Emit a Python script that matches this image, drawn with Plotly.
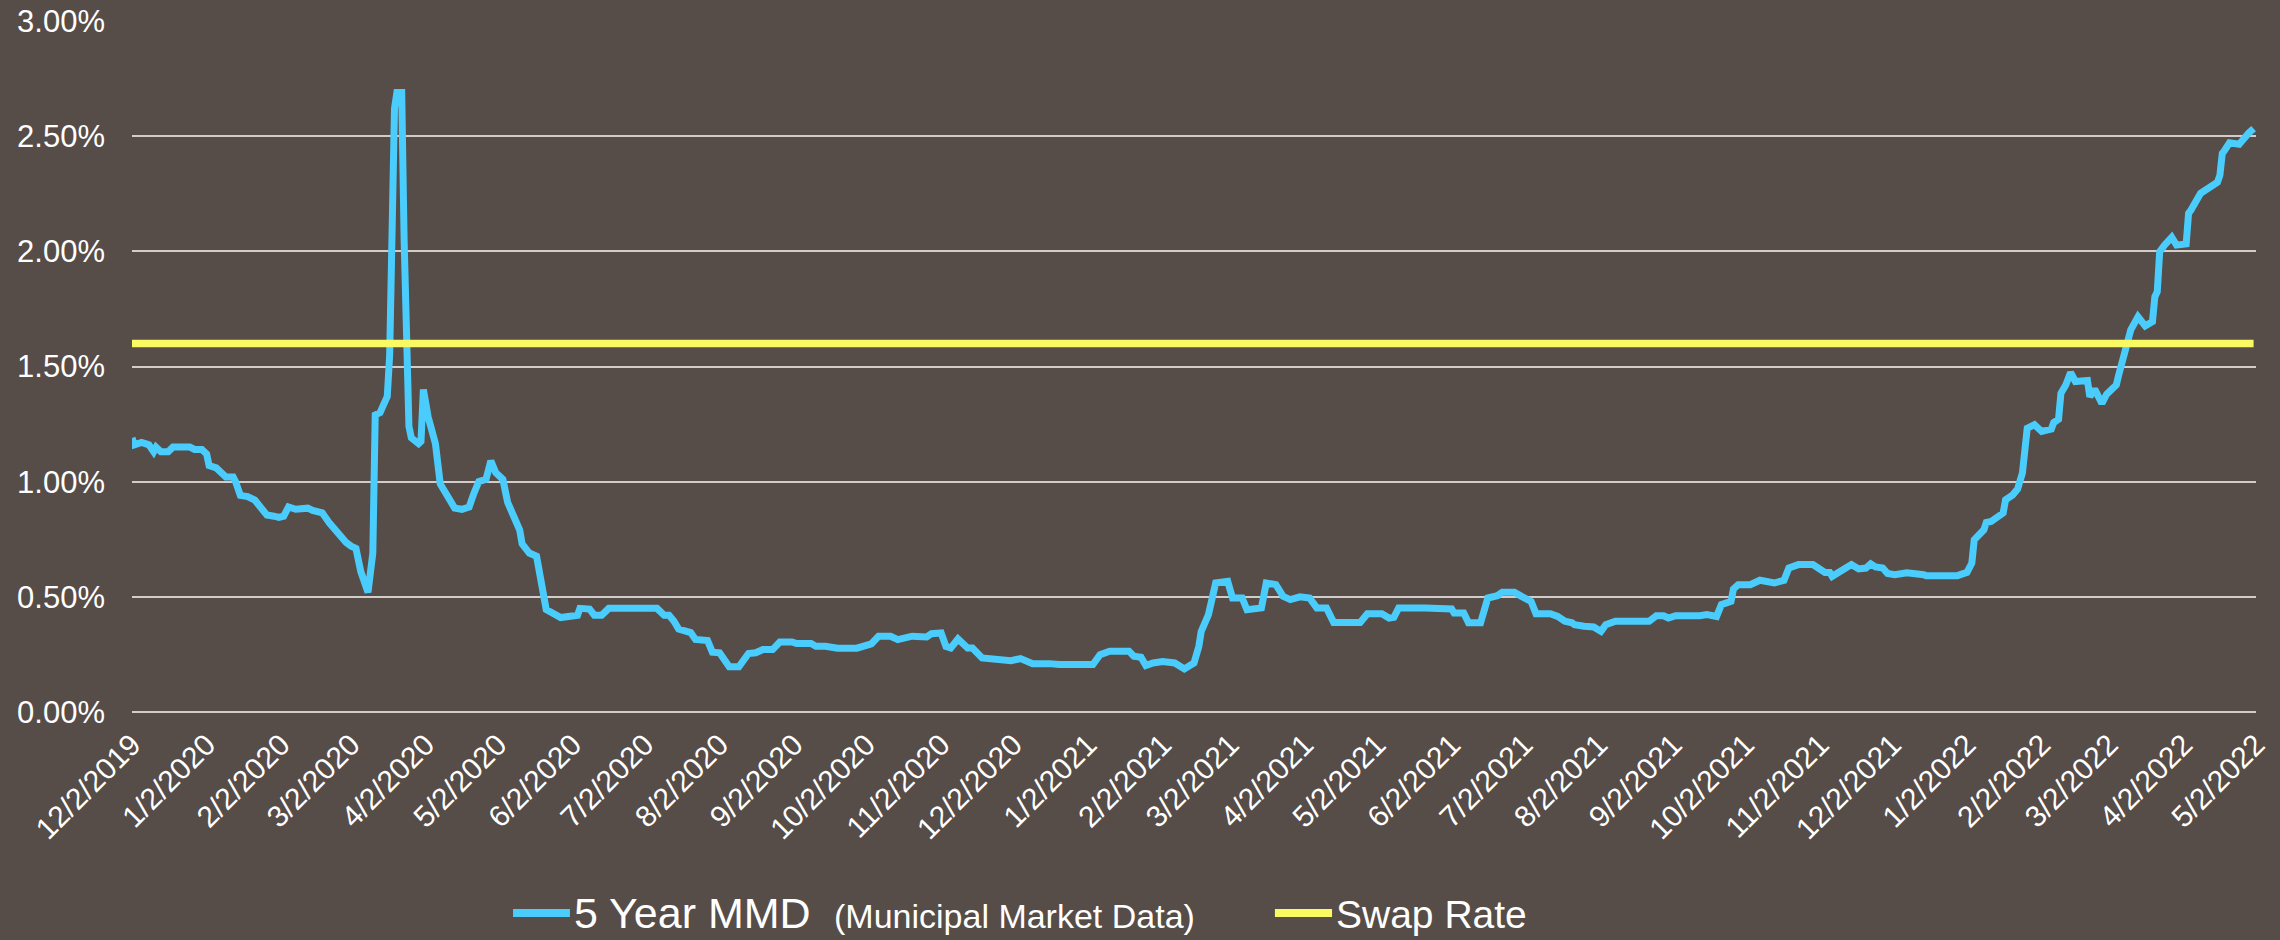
import pandas as pd
import plotly.graph_objects as go

# ---------------- data ----------------
start_date = "2019-12-02"

# days elapsed since start_date for each observation of the 5 Year MMD
mmd_days = [0, 1, 4, 7, 9, 10, 12, 15, 17, 24, 26, 29, 31, 32, 35, 37, 39, 42, 43, 45,
            48, 51, 53, 56, 59, 61, 63, 65, 68, 73, 75, 79, 82, 84, 86, 89, 91, 93, 95, 98,
            100, 101, 103, 106, 107, 108, 109, 110, 112, 113, 114, 115, 116, 119, 120, 121, 123, 126, 128, 131,
            134, 137, 140, 142, 144, 147, 148, 149, 151, 154, 156, 161, 162, 165, 168, 172, 178, 182, 185, 186,
            190, 192, 195, 198, 203, 218, 221, 223, 225, 227, 232, 234, 239, 241, 244, 248, 252, 256, 259, 262,
            266, 269, 274, 276, 282, 284, 288, 293, 301, 304, 307, 310, 315, 318, 319, 324, 330, 332, 336, 338,
            340, 343, 347, 349, 353, 359, 365, 369, 374, 381, 385, 399, 402, 406, 414, 416, 419, 421, 424, 428,
            433, 437, 441, 443, 444, 447, 450, 455, 457, 461, 463, 469, 471, 475, 478, 481, 485, 489, 492, 496,
            499, 510, 513, 519, 522, 524, 526, 537, 548, 549, 553, 555, 560, 563, 567, 569, 574, 577, 581, 583,
            589, 592, 595, 598, 599, 603, 607, 610, 612, 616, 630, 633, 636, 638, 641, 651, 654, 658, 660, 664,
            665, 667, 672, 676, 680, 682, 686, 688, 692, 698, 703, 705, 706, 709, 714, 717, 720, 722, 724, 727,
            729, 732, 737, 744, 745, 758, 762, 764, 765, 769, 770, 772, 777, 778, 781, 783, 785, 787, 790, 793,
            797, 798, 800, 801, 803, 805, 807, 812, 813, 815, 817, 818, 820, 822, 824, 825, 827, 828, 830, 833,
            836, 839, 840, 841, 842, 844, 847, 849, 853, 854, 855, 859, 862, 866, 867, 868, 869, 871, 875, 877,
            879, 881]

# 5 Year MMD yield, percent
mmd_values = [1.19, 1.16, 1.17, 1.16, 1.13, 1.15, 1.13, 1.13, 1.15, 1.15, 1.14, 1.14, 1.12, 1.07, 1.06, 1.04, 1.02, 1.02, 1.00, 0.94,
              0.935, 0.92, 0.89, 0.855, 0.85, 0.845, 0.85, 0.89, 0.88, 0.885, 0.875, 0.865, 0.82, 0.795, 0.775, 0.735, 0.72, 0.71, 0.61, 0.52,
              0.69, 1.29, 1.30, 1.37, 1.55, 2.05, 2.62, 2.69, 2.69, 2.05, 1.45, 1.24, 1.19, 1.165, 1.175, 1.40, 1.28, 1.165, 0.99, 0.935,
              0.885, 0.88, 0.89, 0.95, 1.00, 1.01, 1.05, 1.09, 1.04, 1.01, 0.91, 0.79, 0.73, 0.69, 0.676, 0.445, 0.41, 0.42, 0.42, 0.45,
              0.447, 0.42, 0.42, 0.45, 0.45, 0.45, 0.42, 0.42, 0.395, 0.36, 0.345, 0.315, 0.31, 0.26, 0.257, 0.196, 0.196, 0.254, 0.257, 0.271,
              0.271, 0.304, 0.304, 0.297, 0.297, 0.285, 0.285, 0.277, 0.277, 0.288, 0.296, 0.329, 0.329, 0.314, 0.317, 0.329, 0.326, 0.34, 0.343, 0.285,
              0.278, 0.317, 0.278, 0.278, 0.235, 0.232, 0.223, 0.232, 0.21, 0.21, 0.206, 0.206, 0.249, 0.264, 0.264, 0.242, 0.238, 0.202, 0.213, 0.219,
              0.213, 0.187, 0.213, 0.285, 0.35, 0.423, 0.56, 0.567, 0.495, 0.495, 0.444, 0.452, 0.56, 0.553, 0.502, 0.488, 0.50, 0.495, 0.452, 0.452,
              0.389, 0.389, 0.427, 0.427, 0.408, 0.411, 0.452, 0.452, 0.447, 0.43, 0.43, 0.387, 0.387, 0.495, 0.505, 0.52, 0.52, 0.502, 0.48, 0.427,
              0.427, 0.415, 0.394, 0.387, 0.379, 0.372, 0.369, 0.35, 0.379, 0.394, 0.394, 0.418, 0.418, 0.408, 0.418, 0.418, 0.423, 0.415, 0.466, 0.48,
              0.534, 0.553, 0.553, 0.572, 0.567, 0.56, 0.572, 0.625, 0.64, 0.64, 0.606, 0.606, 0.589, 0.606, 0.64, 0.621, 0.625, 0.643, 0.63, 0.625,
              0.601, 0.596, 0.604, 0.596, 0.592, 0.592, 0.606, 0.647, 0.748, 0.791, 0.823, 0.827, 0.864, 0.921, 0.943, 0.968, 1.037, 1.232, 1.247, 1.218,
              1.228, 1.257, 1.271, 1.384, 1.42, 1.474, 1.435, 1.439, 1.369, 1.402, 1.348, 1.34, 1.38, 1.40, 1.42, 1.464, 1.543, 1.586, 1.659, 1.716,
              1.676, 1.695, 1.803, 1.825, 1.998, 2.027, 2.061, 2.027, 2.032, 2.165, 2.179, 2.252, 2.273, 2.30, 2.33, 2.425, 2.439, 2.471, 2.465, 2.494,
              2.514, 2.533]

swap_rate_value = 1.60  # percent, flat

tick_dates = ["2019-12-02", "2020-01-02", "2020-02-02", "2020-03-02", "2020-04-02", "2020-05-02",
              "2020-06-02", "2020-07-02", "2020-08-02", "2020-09-02", "2020-10-02", "2020-11-02",
              "2020-12-02", "2021-01-02", "2021-02-02", "2021-03-02", "2021-04-02", "2021-05-02",
              "2021-06-02", "2021-07-02", "2021-08-02", "2021-09-02", "2021-10-02", "2021-11-02",
              "2021-12-02", "2022-01-02", "2022-02-02", "2022-03-02", "2022-04-02", "2022-05-02"]
tick_labels = ["12/2/2019", "1/2/2020", "2/2/2020", "3/2/2020", "4/2/2020", "5/2/2020",
               "6/2/2020", "7/2/2020", "8/2/2020", "9/2/2020", "10/2/2020", "11/2/2020",
               "12/2/2020", "1/2/2021", "2/2/2021", "3/2/2021", "4/2/2021", "5/2/2021",
               "6/2/2021", "7/2/2021", "8/2/2021", "9/2/2021", "10/2/2021", "11/2/2021",
               "12/2/2021", "1/2/2022", "2/2/2022", "3/2/2022", "4/2/2022", "5/2/2022"]

y_ticks = [0.0, 0.5, 1.0, 1.5, 2.0, 2.5, 3.0]
y_tick_labels = ["0.00%", "0.50%", "1.00%", "1.50%", "2.00%", "2.50%", "3.00%"]

series_names = ["5 Year MMD", "(Municipal Market Data)", "Swap Rate"]
series_colors = ["#4ACDFC", "#F9F963"]

# ---------------- figure ----------------
dates = pd.Timestamp(start_date) + pd.to_timedelta(mmd_days, unit="D")
swap_values = [swap_rate_value] * len(dates)

BG = "#564C48"
FONT = "Arial, 'Liberation Sans', sans-serif"

fig = go.Figure()
fig.add_trace(go.Scatter(
    x=dates, y=mmd_values, mode="lines", name=series_names[0],
    line=dict(color=series_colors[0], width=7), showlegend=False,
))
fig.add_trace(go.Scatter(
    x=dates, y=swap_values, mode="lines", name=series_names[2],
    line=dict(color=series_colors[1], width=7.5), showlegend=False,
))

# ---- legend drawn below the plot (paper coordinates) ----
LEG_Y = -0.2910
for (x0, x1), col in zip([(0.1794, 0.2062), (0.5381, 0.5650)], series_colors):
    fig.add_shape(type="line", xref="paper", yref="paper", x0=x0, x1=x1, y0=LEG_Y, y1=LEG_Y,
                  line=dict(color=col, width=8), layer="above")
legend_texts = [(series_names[0], 0.2075, LEG_Y, 43),
                (series_names[1], 0.3302, LEG_Y - 0.0045, 34),
                (series_names[2], 0.5663, LEG_Y - 0.002, 39)]
for txt, lx, ly, fs in legend_texts:
    fig.add_annotation(
        xref="paper", yref="paper", x=lx, y=ly, xanchor="left", yanchor="middle",
        showarrow=False, font=dict(size=fs, color="white", family=FONT), text=txt,
        borderpad=0,
    )

fig.update_layout(
    width=2280, height=940,
    paper_bgcolor=BG, plot_bgcolor=BG,
    margin=dict(l=132, r=24, t=21, b=228),
    font=dict(family=FONT, color="white"),
    showlegend=False,
    xaxis=dict(
        type="date", range=[tick_dates[0], tick_dates[-1]],
        tickmode="array", tickvals=tick_dates, ticktext=tick_labels,
        tickangle=-45, tickfont=dict(size=30, color="white"),
        showgrid=False, zeroline=False, showline=False, ticks="",
        ticklabelstandoff=8, automargin=False,
    ),
    yaxis=dict(
        range=[0, 3.0], tickmode="array", tickvals=y_ticks, ticktext=y_tick_labels,
        tickfont=dict(size=31, color="white"),
        showgrid=True, gridcolor="#D2CDCB", gridwidth=2,
        zeroline=True, zerolinecolor="#D2CDCB", zerolinewidth=2,
        showline=False, ticks="", ticklabelstandoff=26, automargin=False,
    ),
)

fig.write_html(
    "out.html",
    config={"displayModeBar": False},
    post_script="document.body.style.margin='0';document.body.style.background='#564C48';",
)
